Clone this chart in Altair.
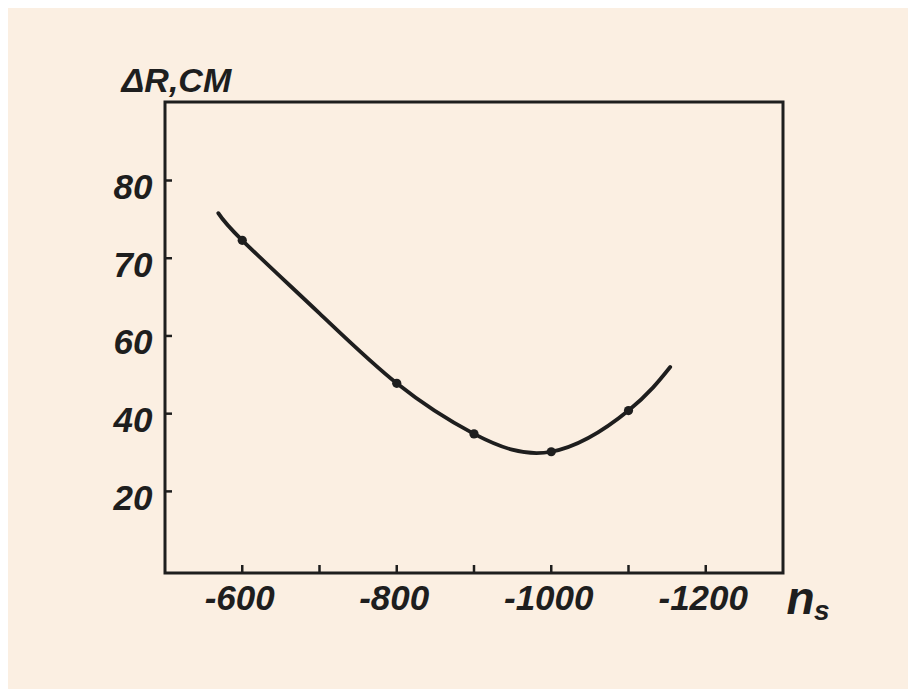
import altair as alt
import pandas as pd

# Curve (smooth line)
curve_n = [-569, -600, -700, -800, -900, -1000, -1100, -1154]
curve_dR = [75.8, 72.3, 62.9, 53.9, 47.4, 45.1, 50.4, 56.0]

# Measured points (dots)
point_n = [-600, -800, -900, -1000, -1100]
point_dR = [72.3, 53.9, 47.4, 45.1, 50.4]

# Axis ticks and labels
x_ticks = [-600, -700, -800, -900, -1000, -1100, -1200]
x_label_values = [-600, -800, -1000, -1200]
y_tick_values = [80, 70, 60, 50, 40]
y_tick_labels = ["80", "70", "60", "40", "20"]

curve = pd.DataFrame({"n": curve_n, "dR": curve_dR})
points = pd.DataFrame({"n": point_n, "dR": point_dR})
xt = pd.DataFrame({"n": x_ticks})
yt = pd.DataFrame({"dR": y_tick_values})

INK = "#1e1e1e"
PAPER = "#fbefe2"
FONT = "Liberation Sans"

label_expr = "''"
for v, l in reversed(list(zip(y_tick_values, y_tick_labels))):
    label_expr = f"datum.value == {v} ? '{l}' : ({label_expr})"

xscale = alt.Scale(domain=[-1300, -500], reverse=True, nice=False, zero=False)
yscale = alt.Scale(domain=[29.5, 90.1], nice=False, zero=False)

xaxis = alt.Axis(
    values=x_label_values, labelExpr="'' + datum.value", domain=False, ticks=False,
    grid=False, labelFontSize=35, labelFont=FONT, labelFontStyle="italic",
    labelFontWeight="bold", labelColor=INK, labelPadding=8, labelOffset=-3,
    title="n", titleFontSize=46, titleFont=FONT, titleFontStyle="italic",
    titleFontWeight="bold", titleColor=INK, titleX=621, titleY=40,
    titleAlign="left", titleBaseline="alphabetic",
)
yaxis = alt.Axis(
    values=y_tick_values, labelExpr=label_expr, domain=False, ticks=False,
    grid=False, labelFontSize=35, labelFont=FONT, labelFontStyle="italic",
    labelFontWeight="bold", labelColor=INK, labelPadding=13, labelOffset=7,
    title="ΔR,CM", titleAngle=0, titleFontSize=34, titleFont=FONT,
    titleFontStyle="italic", titleFontWeight="bold", titleColor=INK,
    titleX=-44, titleY=-11, titleAlign="left", titleBaseline="alphabetic",
)

line = alt.Chart(curve).mark_line(
    interpolate="natural", strokeWidth=3.8, color=INK, strokeCap="round"
).encode(
    x=alt.X("n:Q", scale=xscale, axis=xaxis),
    y=alt.Y("dR:Q", scale=yscale, axis=yaxis),
)

dots = alt.Chart(points).mark_circle(size=85, opacity=1, color=INK).encode(
    x=alt.X("n:Q", scale=xscale, axis=xaxis),
    y=alt.Y("dR:Q", scale=yscale, axis=yaxis),
)

xticks = alt.Chart(xt).mark_rule(color=INK, strokeWidth=2.5).encode(
    x=alt.X("n:Q", scale=xscale, axis=xaxis),
    y=alt.value(471), y2=alt.value(463),
)

yticks = alt.Chart(yt).mark_rule(color=INK, strokeWidth=2.5).encode(
    y=alt.Y("dR:Q", scale=yscale, axis=yaxis),
    x=alt.value(0), x2=alt.value(7),
)

sub = alt.Chart(pd.DataFrame({"t": ["s"]})).mark_text(
    font=FONT, fontSize=28, fontStyle="italic", fontWeight="bold", color=INK,
    align="left", baseline="alphabetic",
).encode(x=alt.value(649), y=alt.value(518), text="t:N")

chart = alt.layer(line, dots, xticks, yticks, sub).properties(
    width=618, height=471,
    autosize=alt.AutoSizeParams(type="none"),
    padding={"left": 157, "top": 94, "right": 125, "bottom": 116},
    background=PAPER,
).configure_view(fill=PAPER, stroke=INK, strokeWidth=3)

chart.save("out.html", embed_options={"renderer": "svg", "actions": False})
